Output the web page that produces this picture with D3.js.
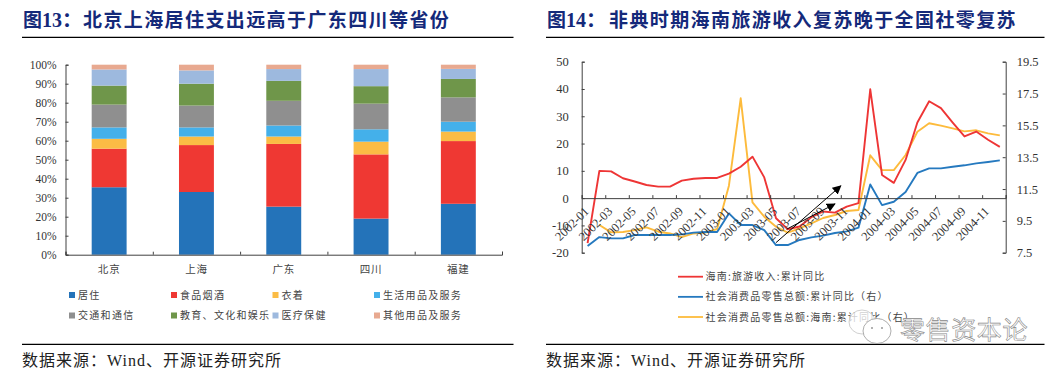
<!DOCTYPE html>
<html>
<head>
<meta charset="utf-8">
<script src="https://cdn.jsdelivr.net/npm/d3@7"></script>
<style>
  body { margin: 0; background: #fff; }
  svg { display: block; }
  .serif { font-family: "Liberation Serif", "Noto Sans CJK SC", serif; }
  .cjk { font-family: "Noto Sans CJK SC", sans-serif; }
</style>
</head>
<body>
<svg id="chart" width="1063" height="375"></svg>
<script>
// left chart data (percent of spending)
const provinces = ["北京", "上海", "广东", "四川", "福建"];
const spendNames = ["居住", "食品烟酒", "衣着", "生活用品及服务", "交通和通信", "教育、文化和娱乐", "医疗保健", "其他用品及服务"];
const spendColors = ["#2473b9", "#ef3833", "#fbbc45", "#44b0ea", "#8f8f8f", "#6f964a", "#9db9de", "#e8a990"];
const housing = [35.5, 33, 25.3, 19, 26.8];
const food = [20.3, 24.7, 33, 33.8, 33];
const clothing = [5.2, 4.5, 3.9, 6.7, 5];
const household = [6, 4.8, 5.8, 6.5, 5.2];
const transport = [12, 11.5, 13, 13.5, 12.8];
const education = [10, 11.5, 10.5, 9.2, 9.7];
const medical = [8.5, 7, 6.2, 9, 5.3];
const other = [2.5, 3, 2.3, 2.3, 2.2];
const spendSeries = [housing, food, clothing, household, transport, education, medical, other];

// right chart data, 2002-01 .. 2004-12 monthly
const monthTicks = ["2002-01", "2002-03", "2002-05", "2002-07", "2002-09", "2002-11",
  "2003-01", "2003-03", "2003-05", "2003-07", "2003-09", "2003-11",
  "2004-01", "2004-03", "2004-05", "2004-07", "2004-09", "2004-11"];
const hainanTourism = [-16.5, 10, 9.8, 7.3, 6.1, 4.8, 4.2, 4.2, 6.4, 7.1, 7.4, 7.4,
  9, 11.5, 15.2, 7.6, -7.4, -11.4, -10.4, -7, -4.9, -5.3, -3.1, -1.8,
  39.9, 8.5, 5.6, 14, 27.7, 35.5, 33, 27.7, 22.6, 24.4, 21.4, 18.8];
const retailNational = [7.92, 8.48, 8.40, 8.40, 8.61, 8.61, 8.61, 8.61, 8.65, 8.76, 8.80, 8.80,
  9.97, 9.24, 9.24, 8.92, 7.98, 7.98, 8.30, 8.46, 8.57, 8.74, 8.84, 9.07,
  11.79, 10.49, 10.70, 11.31, 12.51, 12.80, 12.80, 12.90, 12.99, 13.11, 13.20, 13.30];
const retailHainan = [null, 9.24, 8.78, 8.80, 8.92, 9.09, 8.82, 8.71, 8.48, 8.71, 8.76, 8.99,
  11.71, 17.20, 10.66, 9.76, 9.13, 8.76, 9.03, 9.34, 9.68, 9.87, 10.12, 10.18,
  13.62, 12.69, 12.69, 13.64, 15.10, 15.63, 15.48, 15.31, 15.12, 15.19, 15.00, 14.87];
const leftTicks = [-20, -10, 0, 10, 20, 30, 40, 50];
const rightTicks = [7.5, 9.5, 11.5, 13.5, 15.5, 17.5, 19.5];
const lineNames = ["海南:旅游收入:累计同比", "社会消费品零售总额:累计同比（右）", "社会消费品零售总额:海南:累计同比（右）"];
const lineColors = ["#ee3535", "#2579bf", "#fdbb3c"];
// arrows as [month index, left axis value] start and end
const arrows = [
  [[16.0, -16.3], [21.5, 4.5]],
  [[16.9, -11.4], [21.0, -2.1]]
];

const svg = d3.select("#chart");
const axisColor = "#404040";
const textColor = "#333";
const titleColor = "#14297a";

function drawFrame(x0, x1, num, title, textOffset, source) {
  const t = svg.append("text")
    .attr("y", 27)
    .attr("fill", titleColor)
    .attr("font-weight", 700)
    .attr("class", "serif")
    .style("font-size", "19px");
  t.append("tspan").attr("x", x0 + 1).text("图");
  t.append("tspan").attr("x", x0 + 20).style("font-size", "20px").text(num + "：");
  t.append("tspan").attr("x", x0 + textOffset).attr("class", "cjk").style("letter-spacing", "1.4px").text(title);

  svg.append("line").attr("x1", x0).attr("x2", x1).attr("y1", 37.3).attr("y2", 37.3).attr("stroke", "#000").attr("stroke-width", 1.3);
  svg.append("line").attr("x1", x0).attr("x2", x1).attr("y1", 344.3).attr("y2", 344.3).attr("stroke", "#000").attr("stroke-width", 1.3);

  svg.append("text")
    .attr("x", x0)
    .attr("y", 365.5)
    .attr("class", "serif")
    .attr("fill", "#222")
    .style("font-size", "16px")
    .style("letter-spacing", "1px")
    .text(source);
}

function styleAxis(g) {
  g.selectAll("path, line").attr("stroke", axisColor).attr("stroke-width", 1);
}

drawFrame(22, 513.5, "13", "北京上海居住支出远高于广东四川等省份", 61, "数据来源：Wind、开源证券研究所");
drawFrame(546, 1044.5, "14", "非典时期海南旅游收入复苏晚于全国社零复苏", 63, "数据来源：Wind、开源证券研究所");

// ---- left chart: stacked bars
const barX = d3.scaleBand().domain(provinces).range([65.5, 502]).paddingInner(0.6).paddingOuter(0.3);
const barEdge = d3.scaleLinear().domain([0, provinces.length]).range([65.5, 502]);
const barY = d3.scaleLinear().domain([0, 100]).range([254.7, 64.7]);

const stackRows = provinces.map((p, i) => {
  const row = { province: p };
  spendNames.forEach((n, k) => { row[n] = spendSeries[k][i]; });
  return row;
});
const stacked = d3.stack().keys(spendNames)(stackRows);

svg.append("g").selectAll("g")
  .data(stacked)
  .enter().append("g")
  .attr("fill", (d, i) => spendColors[i])
  .selectAll("rect")
  .data(d => d)
  .enter().append("rect")
  .attr("x", d => barX(d.data.province))
  .attr("width", barX.bandwidth())
  .attr("y", d => barY(d[1]))
  .attr("height", d => barY(d[0]) - barY(d[1]));

const barYAxis = svg.append("g")
  .attr("transform", "translate(65.5,0)")
  .call(d3.axisLeft(barY).tickValues(d3.range(0, 101, 10)).tickFormat(d => d + "%").tickSize(-3).tickPadding(9));
styleAxis(barYAxis);
barYAxis.selectAll("text").attr("class", "serif").attr("fill", textColor).style("font-size", "11.5px");

const barBase = svg.append("g")
  .attr("transform", "translate(0,254.7)")
  .call(d3.axisTop(barEdge).tickValues(d3.range(0, 6)).tickFormat("").tickSize(3));
styleAxis(barBase);

svg.append("g").selectAll("text")
  .data(provinces)
  .enter().append("text")
  .attr("class", "cjk")
  .attr("x", d => barX(d) + barX.bandwidth() / 2)
  .attr("y", 272.5)
  .attr("text-anchor", "middle")
  .attr("fill", "#444")
  .style("font-size", "10.5px")
  .style("letter-spacing", "0.8px")
  .text(d => d);

// legend, 4 columns by 2 rows
const legendCols = d3.scaleOrdinal().domain([0, 1, 2, 3]).range([69, 171, 272.5, 374]);
const legendRows = d3.scaleOrdinal().domain([0, 1]).range([295, 315.5]);
const spendLegend = svg.append("g").selectAll("g")
  .data(spendNames)
  .enter().append("g")
  .attr("transform", (d, i) => `translate(${legendCols(i % 4)},${legendRows(Math.floor(i / 4))})`);
spendLegend.append("rect")
  .attr("y", -3)
  .attr("width", 6)
  .attr("height", 6)
  .attr("fill", (d, i) => spendColors[i]);
spendLegend.append("text")
  .attr("x", 9)
  .attr("y", 3.8)
  .attr("class", "cjk")
  .attr("fill", "#444")
  .style("font-size", "10px")
  .style("letter-spacing", "1.3px")
  .text(d => d);

// ---- right chart: lines on two axes
const monthX = d3.scaleLinear().domain([0, 36]).range([581.7, 1005.7]);
const leftY = d3.scaleLinear().domain([-20, 50]).range([252.7, 61.7]);
const rightY = d3.scaleLinear().domain([7.5, 19.5]).range([252.7, 61.7]);

function lineFor(scale) {
  return d3.line()
    .defined(d => d !== null)
    .x((d, i) => monthX(i + 0.5))
    .y(d => scale(d));
}

const lineData = [
  { values: retailHainan, scale: rightY, color: lineColors[2] },
  { values: retailNational, scale: rightY, color: lineColors[1] },
  { values: hainanTourism, scale: leftY, color: lineColors[0] }
];
lineData.forEach(s => {
  svg.append("path")
    .attr("d", lineFor(s.scale)(s.values))
    .attr("fill", "none")
    .attr("stroke", s.color)
    .attr("stroke-width", 1.9)
    .attr("stroke-linejoin", "round");
});

const leftAxis = svg.append("g")
  .attr("transform", "translate(581.7,0)")
  .call(d3.axisLeft(leftY).tickValues(leftTicks).tickFormat(d => d).tickSize(-3).tickPadding(13));
styleAxis(leftAxis);
leftAxis.selectAll("text").attr("class", "serif").attr("fill", textColor).style("font-size", "12.5px");

const rightAxis = svg.append("g")
  .attr("transform", "translate(1005.7,0)")
  .call(d3.axisRight(rightY).tickValues(rightTicks).tickFormat(d3.format(".1f")).tickSize(-3).tickPadding(11));
styleAxis(rightAxis);
rightAxis.selectAll("text").attr("class", "serif").attr("fill", textColor).style("font-size", "12.5px");

const zeroAxis = svg.append("g")
  .attr("transform", `translate(0,${leftY(0)})`)
  .call(d3.axisTop(monthX).tickValues(d3.range(0, 37, 2)).tickFormat("").tickSize(3));
styleAxis(zeroAxis);

svg.append("g").selectAll("text")
  .data(monthTicks)
  .enter().append("text")
  .attr("class", "serif")
  .attr("text-anchor", "end")
  .attr("fill", textColor)
  .attr("transform", (d, i) => `translate(${monthX(i * 2 + 0.5) + 2},${leftY(0) + 14}) rotate(-45)`)
  .style("font-size", "12.5px")
  .text(d => d);

// arrows
svg.append("defs").append("marker")
  .attr("id", "arrowhead")
  .attr("viewBox", "0 0 10 10")
  .attr("refX", 9)
  .attr("refY", 5)
  .attr("markerWidth", 9)
  .attr("markerHeight", 9)
  .attr("markerUnits", "userSpaceOnUse")
  .attr("orient", "auto")
  .append("path")
  .attr("d", "M0,0L10,5L0,10Z")
  .attr("fill", "#000");

svg.append("g").selectAll("line")
  .data(arrows)
  .enter().append("line")
  .attr("x1", d => monthX(d[0][0] + 0.5))
  .attr("y1", d => leftY(d[0][1]))
  .attr("x2", d => monthX(d[1][0] + 0.5))
  .attr("y2", d => leftY(d[1][1]))
  .attr("stroke", "#000")
  .attr("stroke-width", 1)
  .attr("marker-end", "url(#arrowhead)");

// line legend
const lineLegendY = d3.scaleLinear().domain([0, 2]).range([276.7, 317]);
const lineLegend = svg.append("g").selectAll("g")
  .data(lineNames)
  .enter().append("g")
  .attr("transform", (d, i) => `translate(678,${lineLegendY(i)})`);
lineLegend.append("line")
  .attr("x2", 25)
  .attr("stroke", (d, i) => lineColors[i])
  .attr("stroke-width", 1.8);
lineLegend.append("text")
  .attr("x", 27.5)
  .attr("y", 3.6)
  .attr("class", "cjk")
  .attr("fill", "#444")
  .style("font-size", "10px")
  .style("letter-spacing", "1.2px")
  .text(d => d);

// wechat watermark
const mark = svg.append("g");
mark.append("ellipse").attr("cx", 862).attr("cy", 322).attr("rx", 13).attr("ry", 12)
  .attr("fill", "#fff").attr("fill-opacity", 0.75).attr("stroke", "#bbb").attr("stroke-width", 0.7);
mark.append("ellipse").attr("cx", 877).attr("cy", 331).attr("rx", 14).attr("ry", 12.5)
  .attr("fill", "#fff").attr("stroke", "#999").attr("stroke-width", 0.8);
mark.append("circle").attr("cx", 872).attr("cy", 328).attr("r", 1).attr("fill", "#999");
mark.append("circle").attr("cx", 882).attr("cy", 328).attr("r", 1).attr("fill", "#999");
mark.append("text")
  .attr("x", 900)
  .attr("y", 339)
  .attr("class", "cjk")
  .attr("fill", "#fff")
  .attr("stroke", "#888")
  .attr("stroke-width", 0.6)
  .style("font-size", "25px")
  .style("letter-spacing", "0.6px")
  .text("零售资本论");
</script>
</body>
</html>
